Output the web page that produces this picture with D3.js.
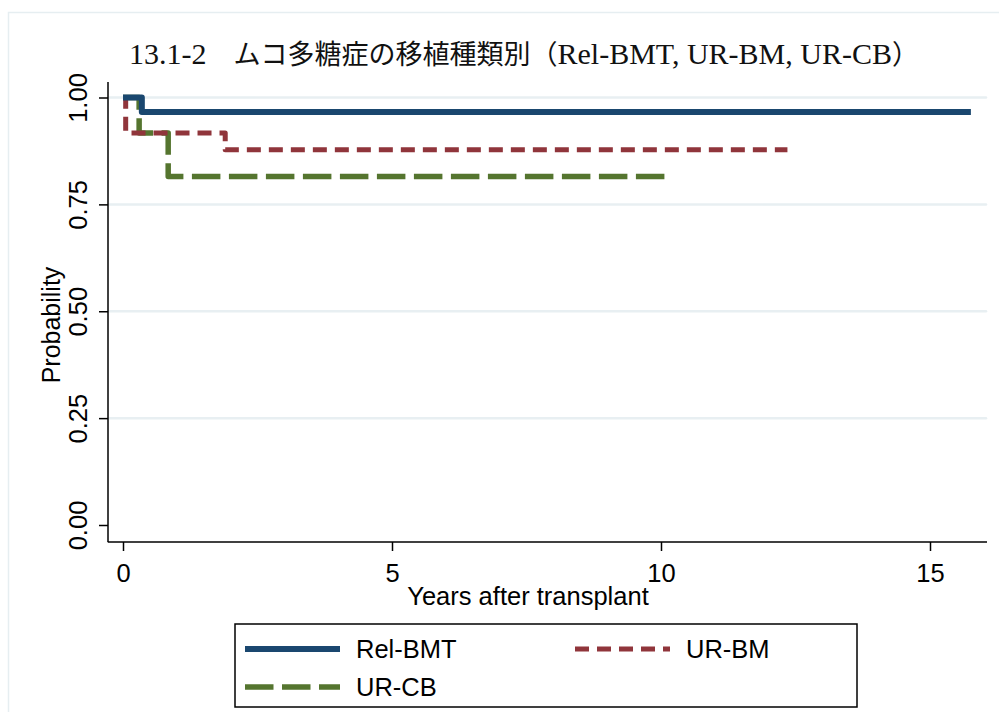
<!DOCTYPE html>
<html>
<head>
<meta charset="utf-8">
<script src="https://cdn.jsdelivr.net/npm/d3@7/dist/d3.min.js"></script>
<style>
  body { margin: 0; background: #fff; }
  svg { display: block; }
</style>
</head>
<body>
<script>
// title pieces: [text, isLatin]
const titleParts = [['13.1-2', true], ['\u3000ムコ多糖症の移植種類別（', false], ['Rel-BMT, UR-BM, UR-CB', true], ['）', false]]
const seriesNames = ['Rel-BMT', 'UR-BM', 'UR-CB']
// step curves: time (years) and survival probability at each step
const relTimes = [0, 0.35, 15.76]
const relSurv = [1, 0.966, 0.966]
const urbmTimes = [0, 0.05, 1.9, 12.35]
const urbmSurv = [1, 0.917, 0.878, 0.878]
const urcbTimes = [0, 0.3, 0.84, 10.1]
const urcbSurv = [1, 0.917, 0.815, 0.815]
const xTicks = [0, 5, 10, 15]
const yTicks = [0, 0.25, 0.5, 0.75, 1]

const colors = ['#1a476f', '#90353b', '#55752f']
const dashes = [null, '14,8', '28.5,8.5']
const widths = [6, 5, 5.5]
const sans = 'Liberation Sans, Arial, sans-serif'

function drawChart() {
    var svg = d3.select('body')
        .append('svg')
        .attr('width', 999)
        .attr('height', 712)

    // faint outer frame
    svg.append('rect')
        .attr('x', 8.5).attr('y', 12.5)
        .attr('width', 1000).attr('height', 710)
        .attr('fill', 'none')
        .attr('stroke', '#e6eef1')
        .attr('stroke-width', 1.5)

    var x = d3.scaleLinear().domain([0, 15]).range([123, 930])
    var y = d3.scaleLinear().domain([0, 1]).range([525, 97.5])

    // gridlines
    svg.selectAll('.grid')
        .data(yTicks.filter(function(d) { return d > 0 }))
        .enter()
        .append('line')
        .attr('x1', 109).attr('x2', 986)
        .attr('y1', function(d) { return y(d) })
        .attr('y2', function(d) { return y(d) })
        .attr('stroke', '#e8eff2')
        .attr('stroke-width', 2.5)
        .attr('stroke-linecap', 'round')

    // axes
    var xAxis = svg.append('g')
        .attr('transform', 'translate(0,542)')
        .call(d3.axisBottom(x).tickValues(xTicks).tickSize(9).tickFormat(d3.format('d')))
    xAxis.select('.domain').remove()
    xAxis.selectAll('line').attr('stroke', '#000').attr('stroke-width', 1.5)
    xAxis.selectAll('text')
        .attr('y', 40).attr('dy', null)
        .attr('fill', '#000')
        .style('font-family', sans)
        .style('font-size', '25.5px')

    var yAxis = svg.append('g')
        .attr('transform', 'translate(108,0)')
        .call(d3.axisLeft(y).tickValues(yTicks).tickSize(9).tickFormat(d3.format('.2f')))
    yAxis.select('.domain').remove()
    yAxis.selectAll('line').attr('stroke', '#000').attr('stroke-width', 1.5)
    yAxis.selectAll('text')
        .attr('x', null).attr('dy', null)
        .attr('transform', 'translate(-21,0) rotate(-90)')
        .attr('text-anchor', 'middle')
        .attr('fill', '#000')
        .style('font-family', sans)
        .style('font-size', '25.5px')

    svg.append('line')
        .attr('x1', 107.75).attr('x2', 987)
        .attr('y1', 542).attr('y2', 542)
        .attr('stroke', '#000').attr('stroke-width', 1.5)
    svg.append('line')
        .attr('x1', 108).attr('x2', 108)
        .attr('y1', 82).attr('y2', 542)
        .attr('stroke', '#000').attr('stroke-width', 1.5)

    // survival curves
    var line = d3.line()
        .x(function(d) { return x(d[0]) })
        .y(function(d) { return y(d[1]) })
        .curve(d3.curveStepAfter)

    var series = [
        d3.zip(relTimes, relSurv),
        d3.zip(urbmTimes, urbmSurv),
        d3.zip(urcbTimes, urcbSurv)
    ]
    // draw in reverse so Rel-BMT sits on top
    ;[2, 1, 0].forEach(function(i) {
        svg.append('path')
            .datum(series[i])
            .attr('d', line)
            .attr('fill', 'none')
            .attr('stroke', colors[i])
            .attr('stroke-width', widths[i])
            .attr('stroke-dasharray', dashes[i])
            .attr('stroke-linejoin', 'round')
    })

    // titles
    var title = svg.append('text')
        .attr('x', 524).attr('y', 64)
        .attr('text-anchor', 'middle')
        .attr('fill', '#111')
        .style('font-family', 'Liberation Serif, "Noto Sans CJK JP", serif')
    title.selectAll('tspan')
        .data(titleParts)
        .enter()
        .append('tspan')
        .text(function(d) { return d[0] })
        .style('font-size', function(d) { return d[1] ? '30px' : '27px' })

    svg.append('text')
        .text('Years after transplant')
        .attr('x', 528).attr('y', 605)
        .attr('text-anchor', 'middle')
        .style('font-family', sans)
        .style('font-size', '25.5px')

    svg.append('text')
        .text('Probability')
        .attr('transform', 'translate(60,325) rotate(-90)')
        .attr('text-anchor', 'middle')
        .style('font-family', sans)
        .style('font-size', '25px')

    // legend
    svg.append('rect')
        .attr('x', 235).attr('y', 624)
        .attr('width', 622).attr('height', 83)
        .attr('fill', '#fff')
        .attr('stroke', '#000')
        .attr('stroke-width', 1.5)

    var legPos = [[245, 649], [575, 649], [245, 687]]
    seriesNames.forEach(function(name, i) {
        var p = legPos[i]
        svg.append('line')
            .attr('x1', p[0]).attr('x2', p[0] + 95)
            .attr('y1', p[1]).attr('y2', p[1])
            .attr('stroke', colors[i])
            .attr('stroke-width', widths[i])
            .attr('stroke-dasharray', dashes[i])
        svg.append('text')
            .text(name)
            .attr('x', p[0] + 111).attr('y', p[1] + 9)
            .style('font-family', sans)
            .style('font-size', '25.5px')
    })
}

drawChart()
</script>
</body>
</html>
